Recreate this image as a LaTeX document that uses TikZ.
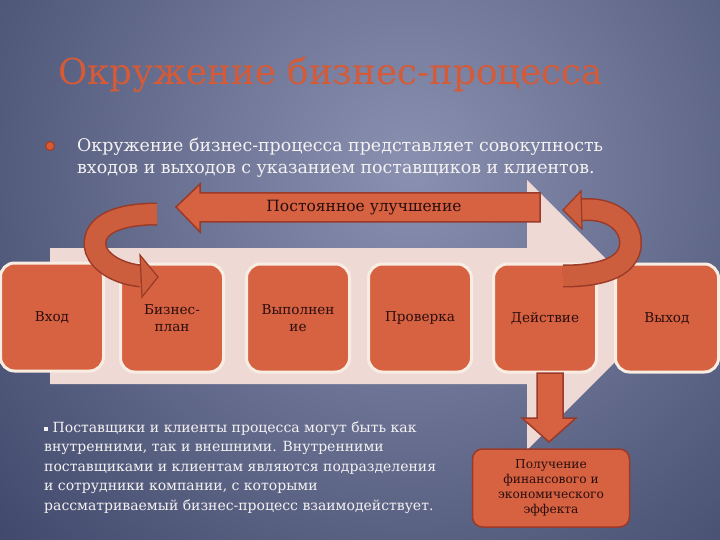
\documentclass[tikz,border=0pt]{standalone}
\usepackage{fontspec}
\setmainfont{DejaVu Serif}
\definecolor{bgdark}{HTML}{3A4366}
\definecolor{bglight}{HTML}{8A90B0}
\definecolor{pale}{HTML}{EFD9D5}
\definecolor{boxfill}{HTML}{D66242}
\definecolor{cream}{HTML}{F8EDE3}
\definecolor{darktext}{HTML}{2B0D0D}
\definecolor{titleorange}{HTML}{D65A36}
\definecolor{darkred}{HTML}{9A3A28}
\definecolor{ribbon}{HTML}{CC5D3D}
\definecolor{bodytext}{HTML}{F4F2F2}
\tikzset{
  pbox/.style={rectangle, rounded corners=14pt, draw=cream, line width=3pt, fill=boxfill,
    minimum width=103pt, minimum height=108pt, font=\fontsize{13.6}{17}\selectfont,
    text=darktext, align=center, inner sep=0pt},
  barstyle/.style={fill=boxfill, draw=darkred, line width=1.5pt, line join=miter},
  resbox/.style={rectangle, rounded corners=10pt, fill=boxfill, draw=darkred, line width=1.5pt,
    minimum width=157pt, minimum height=78pt, font=\fontsize{12.2}{15}\selectfont,
    text=darktext, align=center, inner sep=0pt},
  ribbonedge/.style={line width=23pt, draw=darkred},
  ribbonfill/.style={line width=20pt, draw=ribbon},
  headstyle/.style={fill=ribbon, draw=darkred, line width=1.2pt, line join=miter}
}
\begin{document}
\begin{tikzpicture}[x=1pt,y=-1pt]
\useasboundingbox (0,0) rectangle (720,540);
\fill[bgdark] (0,0) rectangle (720,540);
\begin{scope}
\clip (0,0) rectangle (720,540);
\shade[inner color=bglight, outer color=bgdark] (410,170) circle (600pt);
\end{scope}

% title
\node[anchor=base west, inner sep=0pt, font=\fontsize{35.7}{40}\selectfont, text=titleorange] (title) at (58,85) {Окружение бизнес-процесса};

% bullet
\node[circle, fill=titleorange, draw=darkred, line width=1pt, minimum size=9pt, inner sep=0pt] (bul) at (50,146) {};
\node[anchor=base west, inner sep=0pt, align=left, font=\fontsize{17.4}{22}\selectfont, text=bodytext] (intro) at (77,174)
  {Окружение бизнес-процесса представляет совокупность\\входов и выходов с указанием поставщиков и клиентов.};

% big pale chevron
\fill[pale] (50,248) -- (527,248) -- (527,180) -- (662,315) -- (527,450) -- (527,384) -- (50,384) -- cycle;

% top arrow
\draw[barstyle] (176,207) -- (200,184) -- (200,193) -- (540,193) -- (540,222) -- (200,222) -- (200,232) -- cycle;
\node[font=\fontsize{15.5}{17}\selectfont, text=darktext] (impr) at (364,208) {Постоянное улучшение};

% boxes
\node[pbox] (in)   at (52,317)  {Вход};
\node[pbox] (plan) at (172,318) {Бизнес-\\план};
\node[pbox] (exec) at (298,318) {Выполнен\\ие};
\node[pbox] (chk)  at (420,318) {Проверка};
\node[pbox] (act)  at (545,318) {Действие};
\node[pbox] (out)  at (667,318) {Выход};

% down arrow
\draw[barstyle] (537,373) -- (563,373) -- (563,418) -- (576,418) -- (549,442) -- (522,418) -- (537,418) -- cycle;
\node[resbox] (res) at (551,488) {Получение\\финансового и\\экономического\\эффекта};

% left curved arrow
\draw[ribbonedge] (157,214) .. controls (112,214) and (90,228) .. (96,250) .. controls (101,264) and (120,274) .. (141,276);
\draw[ribbonfill] (157,214) .. controls (112,214) and (90,228) .. (96,250) .. controls (101,264) and (120,274) .. (141,276);
\draw[headstyle] (140,255) -- (158,277) -- (142,297) -- cycle;

% right curved arrow
\draw[ribbonedge] (580,210) .. controls (615,206) and (634,228) .. (630,248) .. controls (626,268) and (600,276) .. (563,276);
\draw[ribbonfill] (580,210) .. controls (615,206) and (634,228) .. (630,248) .. controls (626,268) and (600,276) .. (563,276);
\draw[headstyle] (581,191) -- (563,210) -- (582,229) -- cycle;

% bottom text
\node[anchor=base west, inner sep=0pt, align=left, font=\fontsize{14}{19.5}\selectfont, text=bodytext] (note) at (44,510)
  {\raisebox{1.5pt}{\rule{4pt}{4pt}} Поставщики и клиенты процесса могут быть как\\
   внутренними, так и внешними. Внутренними\\
   поставщиками и клиентам являются подразделения\\
   и сотрудники компании, с которыми\\
   рассматриваемый бизнес-процесс взаимодействует.};
\end{tikzpicture}
\end{document}
